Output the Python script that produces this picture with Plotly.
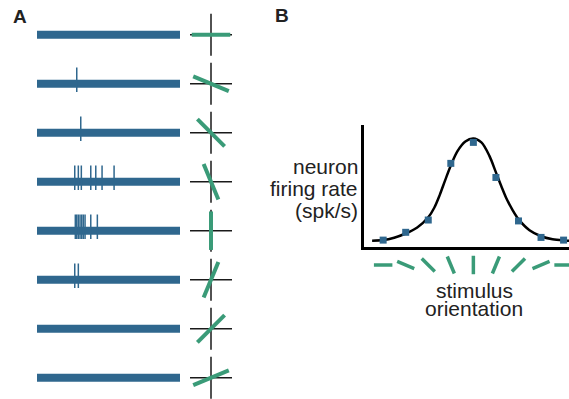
import plotly.graph_objects as go

W, H = 569, 399

# ---------------- Panel A data ----------------
trials = [1, 2, 3, 4, 5, 6, 7, 8]
trial_orient = [90, -67.5, -45, -22.5, 0, 22.5, 45, 67.5]   # stimulus orientation (deg)
stim_dur = 1000  # ms
spike_times = [
    [],
    [278],
    [306],
    [264, 289, 310, 376, 411, 455, 539],
    [268, 278, 289, 301, 313, 324, 336, 376, 422],
    [264, 289],
    [],
    [],
]

# ---------------- Panel B data ----------------
orientations = [-90, -67.5, -45, -22.5, 0, 22.5, 45, 67.5, 90]
rates = [2.4, 5.0, 9.1, 28.0, 35.0, 23.3, 8.8, 3.3, 2.4]
fit_deg = [-101, -90, -79, -67.5, -56, -45, -39, -33.5, -28, -22.5, -16, -8, 0,
           8, 16, 22.5, 28, 33, 39, 45, 56, 67.5, 79, 90, 95.4]
fit_rate = [2.2, 2.4, 3.2, 4.6, 6.6, 10.0, 13.2, 17.5, 22.5, 27.3, 32.0, 35.3, 36.3,
            35.0, 30.5, 25.0, 20.3, 16.3, 12.5, 9.4, 5.7, 3.7, 2.7, 2.3, 2.2]

BLUE = "#2f678e"
GREEN = "#3a9b78"
INK = "#1a1a1a"

# layout geometry (pixels)
row0, step = 34.7, 49.0
yA_top, yA_bot = 0.5, 8.1
pxA_top = row0 + (yA_top - 1) * step
pxA_bot = row0 + (yA_bot - 1) * step

fig = go.Figure()

# stimulus bars
fig.add_trace(go.Bar(
    orientation="h", y=trials, x=[stim_dur] * len(trials), base=0,
    width=8.0 / step, marker=dict(color=BLUE, line=dict(width=0)),
    xaxis="x", yaxis="y", hoverinfo="skip", showlegend=False))

# spikes
sx, sy = [], []
for tr, times in zip(trials, spike_times):
    for t in times:
        sx += [t, t, None]
        sy += [tr - 0.33, tr + 0.17, None]
fig.add_trace(go.Scatter(
    x=sx, y=sy, mode="lines", line=dict(color=BLUE, width=1.5),
    xaxis="x", yaxis="y", hoverinfo="skip", showlegend=False))

# orientation glyphs for panel A
fig.add_trace(go.Scatter(
    x=[0.5] * len(trials), y=trials, mode="markers", cliponaxis=False,
    marker=dict(symbol="cross-thin", size=30, line=dict(color=INK, width=1.5)),
    xaxis="x2", yaxis="y", hoverinfo="skip", showlegend=False))
fig.add_trace(go.Scatter(
    x=[0.5] * len(trials), y=trials, mode="markers", cliponaxis=False,
    marker=dict(symbol="line-ns", size=27.5, angle=trial_orient,
                line=dict(color=GREEN, width=4)),
    xaxis="x2", yaxis="y", hoverinfo="skip", showlegend=False))

# tuning curve
fig.add_trace(go.Scatter(
    x=fit_deg, y=fit_rate, mode="lines",
    line=dict(color="black", width=2.5, shape="spline", smoothing=0.9),
    xaxis="x3", yaxis="y3", hoverinfo="skip", showlegend=False, cliponaxis=False))
fig.add_trace(go.Scatter(
    x=orientations, y=rates, mode="markers",
    marker=dict(symbol="square", size=7, color=BLUE, line=dict(width=0)),
    xaxis="x3", yaxis="y3", hoverinfo="skip", showlegend=False, cliponaxis=False))

# orientation glyphs along panel B x axis
fig.add_trace(go.Scatter(
    x=orientations, y=[0] * len(orientations), mode="markers",
    marker=dict(symbol="line-ns", size=13.2, angle=orientations,
                line=dict(color=GREEN, width=3.5)),
    xaxis="x3", yaxis="y4", hoverinfo="skip", showlegend=False, cliponaxis=False))

hidden = dict(visible=False, showgrid=False, zeroline=False, fixedrange=True)
fig.update_layout(
    width=W, height=H, margin=dict(l=0, r=0, t=0, b=0),
    paper_bgcolor="white", plot_bgcolor="rgba(0,0,0,0)",
    xaxis=dict(range=[0, stim_dur], domain=[37 / W, 180 / W], anchor="y", **hidden),
    yaxis=dict(range=[yA_bot, yA_top], domain=[1 - pxA_bot / H, 1 - pxA_top / H], anchor="x", **hidden),
    xaxis2=dict(range=[0, 1], domain=[200 / W, 222 / W], anchor="y", **hidden),
    xaxis3=dict(range=[-108.8, 95.4], domain=[364.3 / W, 1.0], anchor="y3",
                showline=True, linecolor="black", linewidth=2.5, showgrid=False,
                zeroline=False, showticklabels=False, ticks=""),
    yaxis3=dict(range=[0, 40.8], domain=[1 - 247.3 / H, 1 - 125 / H], anchor="x3",
                showline=True, linecolor="black", linewidth=2.5, showgrid=False,
                zeroline=False, showticklabels=False, ticks=""),
    yaxis4=dict(range=[-1, 1], domain=[1 - 275 / H, 1 - 255 / H], anchor="x3", **hidden),
    showlegend=False,
    font=dict(family="Liberation Sans, Arial, sans-serif", color="#222"),
)

def ann(text, x, y, size, xanchor="center", bold=False):
    fig.add_annotation(text=f"<b>{text}</b>" if bold else text, x=x / W, y=1 - y / H,
                       xref="paper", yref="paper", xanchor=xanchor, yanchor="middle",
                       showarrow=False, font=dict(size=size, color="#222"))

ann("A", 20.5, 16.5, 19, bold=True)
ann("B", 281.5, 15.5, 19, bold=True)
ann("neuron", 360, 166, 21, xanchor="right")
ann("firing rate", 360, 188, 21, xanchor="right")
ann("(spk/s)", 360, 210, 21, xanchor="right")
ann("stimulus", 474, 290, 21)
ann("orientation", 474, 308, 21)

fig.write_html("out.html")
